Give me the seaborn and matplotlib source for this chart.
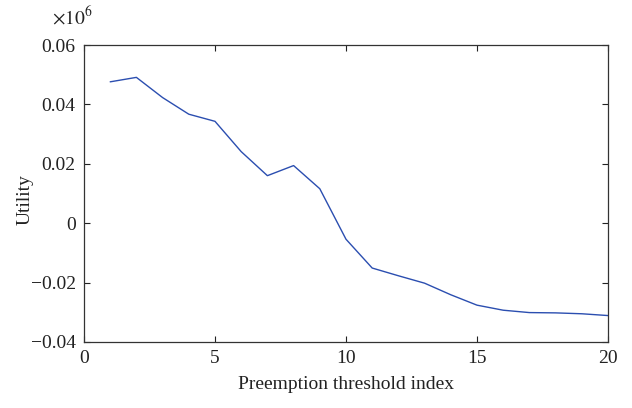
import matplotlib
matplotlib.use("Agg")
import matplotlib.pyplot as plt
import seaborn as sns
import pandas as pd

threshold_index = [1, 2, 3, 4, 5, 6, 7, 8, 9, 10, 11, 12, 13, 14, 15, 16, 17, 18, 19, 20]
utility = [0.0476, 0.0491, 0.0423, 0.0367, 0.0343, 0.0241, 0.0160, 0.0194, 0.0116, -0.0054,
           -0.0151, -0.0177, -0.0202, -0.0241, -0.0276, -0.0293, -0.0301, -0.0302, -0.0305, -0.0311]
x_ticks = [0, 5, 10, 15, 20]
y_ticks = [-0.04, -0.02, 0, 0.02, 0.04, 0.06]
y_tick_labels = ["\u22120.04", "\u22120.02", "0", "0.02", "0.04", "0.06"]

sns.set_theme(style="white")
plt.rcParams['font.family'] = ['Liberation Serif', 'DejaVu Serif']
plt.rcParams['mathtext.fontset'] = 'stix'

df = pd.DataFrame({"x": threshold_index, "y": utility})

fig = plt.figure(figsize=(6.32, 4.08), dpi=100)
ax = fig.add_axes([0.1329, 0.1618, 0.8291, 0.7279])
sns.lineplot(data=df, x="x", y="y", ax=ax, color="#2b4eb0", linewidth=1.0)

ax.set_xlim(0, 20)
ax.set_ylim(-0.04, 0.06)
ax.set_xticks(x_ticks)
ax.set_xticklabels([str(t) for t in x_ticks])
ax.set_yticks(y_ticks)
ax.set_yticklabels(y_tick_labels)
ax.tick_params(direction="in", length=4, width=0.8, color="#222222", labelsize=14,
               top=True, right=True, bottom=True, left=True, pad=6, labelcolor="#222222")
for s in ax.spines.values():
    s.set_color("#333333")
    s.set_linewidth(0.9)

ax.set_xlabel("Preemption threshold index", fontsize=14, color="#222222", labelpad=6)
ax.set_ylabel("Utility", fontsize=14, color="#222222")
ax.yaxis.set_label_coords(-0.097, 0.48)
ax.text(0.082, 0.94, r"$\times10^{6}$", transform=fig.transFigure, fontsize=14,
        color="#222222")

fig.savefig("out.png", dpi=100)
